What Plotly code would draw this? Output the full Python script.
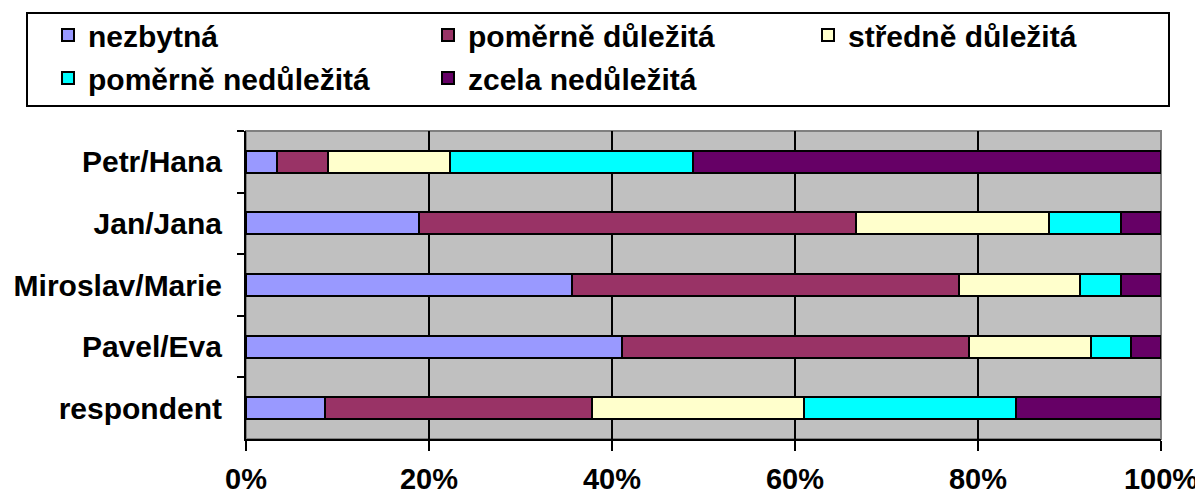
import plotly.graph_objects as go

categories = ["Petr/Hana", "Jan/Jana", "Miroslav/Marie", "Pavel/Eva", "respondent"]
series_names = ["nezbytná", "poměrně důležitá", "středně důležitá", "poměrně nedůležitá", "zcela nedůležitá"]
nezbytna = [3.4, 18.9, 35.6, 41.1, 8.6]
pomerne_dulezita = [5.6, 47.8, 42.3, 37.9, 29.2]
stredne_dulezita = [13.3, 21.1, 13.2, 13.3, 23.2]
pomerne_nedulezita = [26.6, 7.8, 4.5, 4.4, 23.1]
zcela_nedulezita = [51.1, 4.4, 4.4, 3.3, 15.9]
x_tick_vals = [0, 20, 40, 60, 80, 100]
x_tick_text = ["0%", "20%", "40%", "60%", "80%", "100%"]

colors = ["#9999FF", "#993366", "#FFFFCC", "#00FFFF", "#660066"]
values = [nezbytna, pomerne_dulezita, stredne_dulezita, pomerne_nedulezita, zcela_nedulezita]
legend_ids = ["legend", "legend", "legend", "legend2", "legend2"]

FONT = "Liberation Sans, Arial, sans-serif"

fig = go.Figure()
for name, vals, col, lg in zip(series_names, values, colors, legend_ids):
    fig.add_trace(go.Bar(
        y=categories, x=vals, name=name, orientation="h",
        marker=dict(color=col, line=dict(color="black", width=2)),
        legend=lg,
    ))

# page offset from default body margin
OFF = 8
W, H = 1203 - OFF, 495 - OFF
PL, PR, PT, PB = 246, 1161, 131, 439  # plot area in page pixels
L, T = PL - OFF, PT - OFF
R, B = W - (PR - OFF), H - (PB - OFF)
pw, ph = W - L - R, H - T - B

def px_x(p):
    return (p - OFF - L) / pw

def px_y(p):
    return (H - B - (p - OFF)) / ph

legend_common = dict(
    orientation="h", xanchor="left", yanchor="top",
    bgcolor="rgba(0,0,0,0)", borderwidth=0,
    font=dict(family=FONT, size=30, color="black", weight="bold"),
    entrywidth=335, entrywidthmode="pixels",
    traceorder="normal",
)

fig.update_layout(
    width=W, height=H,
    margin=dict(l=L, r=R, t=T, b=B, autoexpand=False),
    paper_bgcolor="white",
    plot_bgcolor="#C0C0C0",
    barmode="stack",
    bargap=0.64,
    font=dict(family=FONT, color="black"),
    legend=dict(x=px_x(48), y=px_y(9), **legend_common),
    legend2=dict(x=px_x(48), y=px_y(52), **legend_common),
    xaxis=dict(
        range=[0, 100], tickvals=x_tick_vals, ticktext=x_tick_text,
        showgrid=True, gridcolor="black", gridwidth=2,
        showline=True, linecolor="black", linewidth=2,
        ticks="outside", ticklen=10, tickwidth=2, tickcolor="black",
        tickfont=dict(family=FONT, size=29, color="black", weight="bold"),
        ticklabelstandoff=3,
        zeroline=False, fixedrange=True,
    ),
    yaxis=dict(
        type="category", autorange="reversed",
        showgrid=False,
        showline=True, linecolor="black", linewidth=2,
        ticks="outside", ticklen=7, tickwidth=2, tickcolor="black",
        tickson="boundaries",
        tickfont=dict(family=FONT, size=30, color="black", weight="bold"),
        ticklabelstandoff=16,
        zeroline=False, fixedrange=True,
    ),
    shapes=[
        dict(type="rect", xref="paper", yref="paper", x0=0, x1=1, y0=0, y1=1,
             line=dict(color="#808080", width=2), layer="below"),
        dict(type="rect", xref="paper", yref="paper",
             x0=px_x(27), x1=px_x(1169), y0=px_y(13), y1=px_y(106),
             line=dict(color="black", width=2), fillcolor="rgba(0,0,0,0)", layer="above"),
    ],
)

fig.write_html("out.html")
